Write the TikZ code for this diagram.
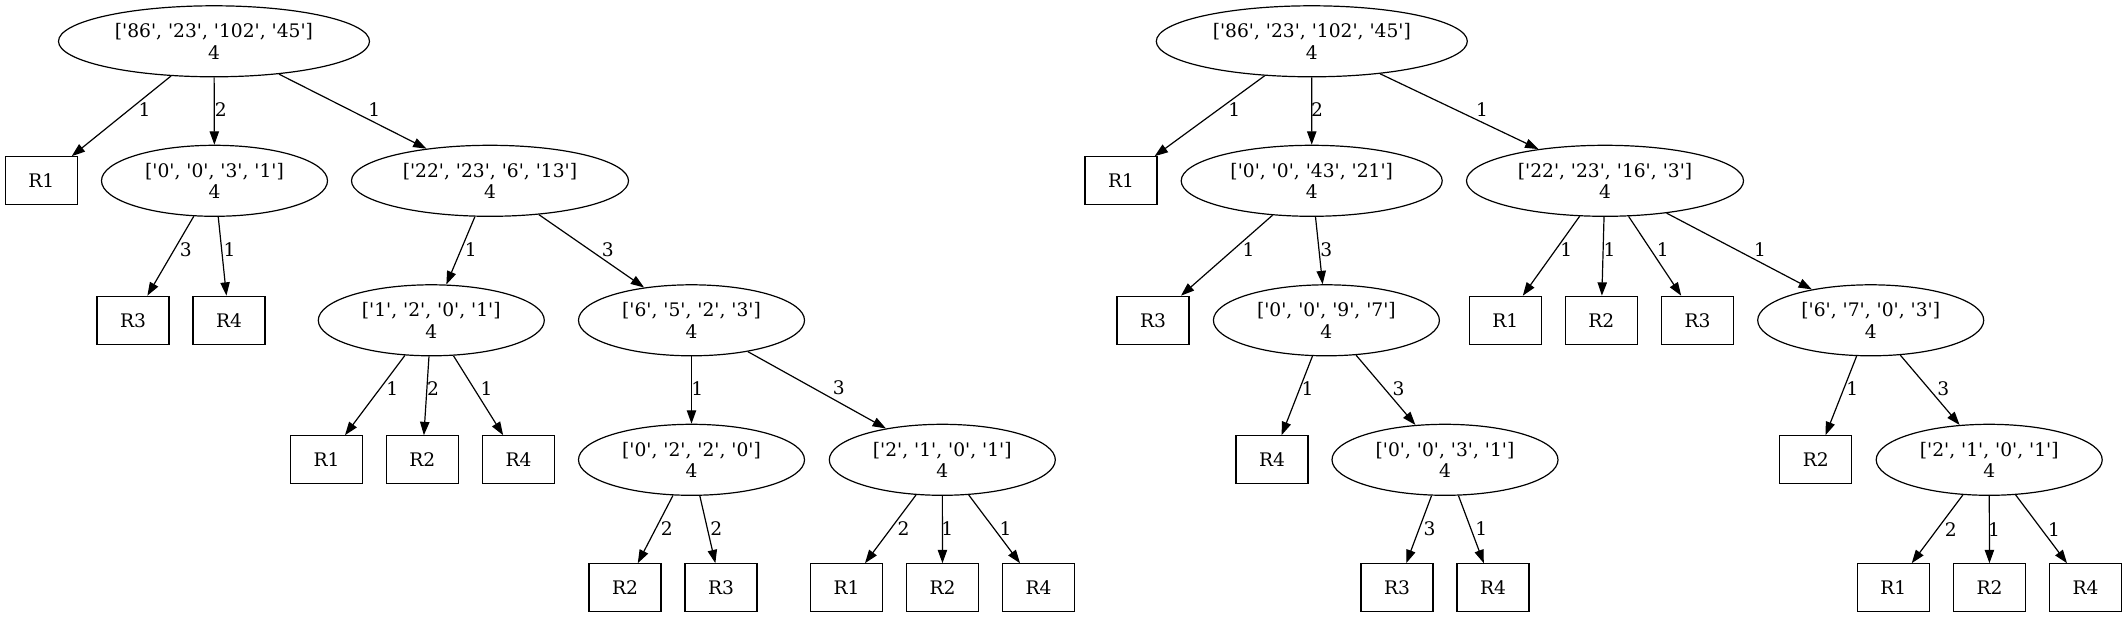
\documentclass[tikz,border=0pt]{standalone}
\usepackage{fontspec}
\setmainfont{DejaVu Serif}
\usetikzlibrary{arrows.meta,shapes.geometric}
\newcommand\gvq{\XeTeXglyph\XeTeXcharglyph"0027\relax}
\newcommand\gvlist[4]{[\gvq#1\gvq, \gvq#2\gvq, \gvq#3\gvq, \gvq#4\gvq]\\4}
\newcommand\gvedge[5]{\draw[edge] (#1) -- (#2); \node[lbl] (l#1#2) at (#4,#5) {#3};}
\tikzset{
  gvfont/.style={font=\fontsize{14pt}{16pt}\selectfont},
  ell/.style={draw, line width=0.9pt, ellipse, gvfont, minimum width=#1, minimum height=53.25pt, inner sep=0pt, align=center},
  leaf/.style={draw, line width=0.9pt, rectangle, gvfont, minimum width=54pt, minimum height=36pt, inner sep=0pt},
  edge/.style={line width=0.9pt, -{Triangle[length=10pt,width=7pt]}},
  lbl/.style={gvfont, inner sep=0pt}
}
\begin{document}
\begin{tikzpicture}[x=0.75pt,y=-0.75pt]
\useasboundingbox (0,0) rectangle (2127,617);
% left tree
\node[ell=233.25pt] (A0) at (214,41.3) {\gvlist{86}{23}{102}{45}};
\node[leaf] (A1) at (41.3,180.8) {R1};
\node[ell=169.5pt] (A2) at (214.5,180.8) {\gvlist{0}{0}{3}{1}};
\node[ell=207.75pt] (A3) at (490,180.8) {\gvlist{22}{23}{6}{13}};
\node[leaf] (A4) at (133,320.3) {R3};
\node[leaf] (A5) at (229,320.3) {R4};
\node[ell=169.5pt] (A6) at (431.3,320.3) {\gvlist{1}{2}{0}{1}};
\node[ell=169.5pt] (A7) at (691.5,320.3) {\gvlist{6}{5}{2}{3}};
\node[leaf] (A8) at (326.5,459.8) {R1};
\node[leaf] (A9) at (422.3,459.8) {R2};
\node[leaf] (A10) at (518.5,459.8) {R4};
\node[ell=169.5pt] (A11) at (691.5,459.8) {\gvlist{0}{2}{2}{0}};
\node[ell=169.5pt] (A12) at (942.3,459.8) {\gvlist{2}{1}{0}{1}};
\node[leaf] (A13) at (625,587.8) {R2};
\node[leaf] (A14) at (721,587.8) {R3};
\node[leaf] (A15) at (846.6,587.8) {R1};
\node[leaf] (A16) at (942.5,587.8) {R2};
\node[leaf] (A17) at (1038.5,587.8) {R4};
\gvedge{A0}{A1}{1}{144.6}{110}
\gvedge{A0}{A2}{2}{220.7}{110}
\gvedge{A0}{A3}{1}{374.3}{110}
\gvedge{A2}{A4}{3}{185.7}{249.3}
\gvedge{A2}{A5}{1}{229.6}{249.3}
\gvedge{A3}{A6}{1}{470.7}{249.3}
\gvedge{A3}{A7}{3}{607.7}{249.6}
\gvedge{A6}{A8}{1}{392.2}{388.3}
\gvedge{A6}{A9}{2}{433}{388.3}
\gvedge{A6}{A10}{1}{486.6}{388.3}
\gvedge{A7}{A11}{1}{697.3}{388.3}
\gvedge{A7}{A12}{3}{838.7}{387.3}
\gvedge{A11}{A13}{2}{666.7}{528.3}
\gvedge{A11}{A14}{2}{716.2}{528.3}
\gvedge{A12}{A15}{2}{903.5}{528.3}
\gvedge{A12}{A16}{1}{947.3}{528.3}
\gvedge{A12}{A17}{1}{1005.5}{528.3}
% right tree
\node[ell=233.25pt] (B0) at (1311.8,41.3) {\gvlist{86}{23}{102}{45}};
\node[leaf] (B1) at (1121,180.8) {R1};
\node[ell=195.75pt] (B2) at (1311.7,180.8) {\gvlist{0}{0}{43}{21}};
\node[ell=207.75pt] (B3) at (1605,180.8) {\gvlist{22}{23}{16}{3}};
\node[leaf] (B4) at (1153,320.3) {R3};
\node[ell=169.5pt] (B5) at (1326.4,320.3) {\gvlist{0}{0}{9}{7}};
\node[leaf] (B6) at (1505.2,320.3) {R1};
\node[leaf] (B7) at (1601.2,320.3) {R2};
\node[leaf] (B8) at (1697.5,320.3) {R3};
\node[ell=169.5pt] (B9) at (1870.7,320.3) {\gvlist{6}{7}{0}{3}};
\node[leaf] (B10) at (1272,459.8) {R4};
\node[ell=169.5pt] (B11) at (1445,459.8) {\gvlist{0}{0}{3}{1}};
\node[leaf] (B12) at (1815.8,459.8) {R2};
\node[ell=169.5pt] (B13) at (1989.2,459.8) {\gvlist{2}{1}{0}{1}};
\node[leaf] (B14) at (1397,587.8) {R3};
\node[leaf] (B15) at (1493,587.8) {R4};
\node[leaf] (B16) at (1893.3,587.8) {R1};
\node[leaf] (B17) at (1989.5,587.8) {R2};
\node[leaf] (B18) at (2085.5,587.8) {R4};
\gvedge{B0}{B1}{1}{1234.3}{110}
\gvedge{B0}{B2}{2}{1317}{110}
\gvedge{B0}{B3}{1}{1482}{110}
\gvedge{B2}{B4}{1}{1248.6}{249.3}
\gvedge{B2}{B5}{3}{1326.4}{249.3}
\gvedge{B3}{B6}{1}{1566.4}{249.3}
\gvedge{B3}{B7}{1}{1609.5}{249.3}
\gvedge{B3}{B8}{1}{1662.7}{249.3}
\gvedge{B3}{B9}{1}{1760}{249.3}
\gvedge{B5}{B10}{1}{1307.5}{388.3}
\gvedge{B5}{B11}{3}{1398.6}{388.3}
\gvedge{B11}{B14}{3}{1429.6}{528.3}
\gvedge{B11}{B15}{1}{1481.4}{528.3}
\gvedge{B9}{B12}{1}{1852.3}{388.3}
\gvedge{B9}{B13}{3}{1943.3}{388.3}
\gvedge{B13}{B16}{2}{1950.7}{529.3}
\gvedge{B13}{B17}{1}{1994}{529.3}
\gvedge{B13}{B18}{1}{2054}{529.3}
\end{tikzpicture}
\end{document}
